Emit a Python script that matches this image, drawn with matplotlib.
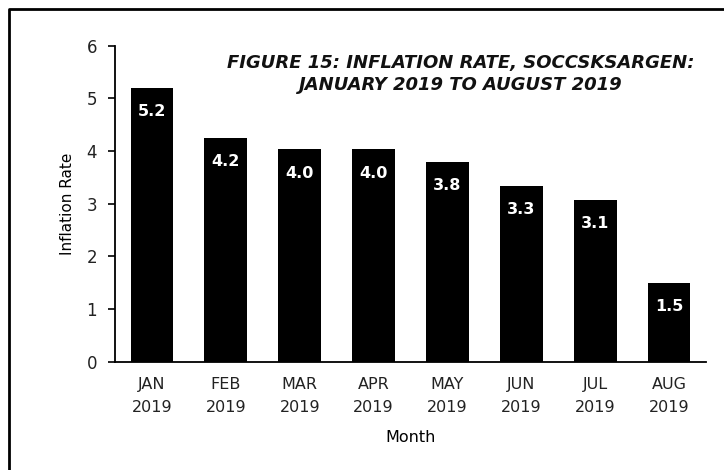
import matplotlib.pyplot as plt
from matplotlib.lines import Line2D

months = ['JAN\n2019', 'FEB\n2019', 'MAR\n2019', 'APR\n2019',
          'MAY\n2019', 'JUN\n2019', 'JUL\n2019', 'AUG\n2019']
rates = [5.2, 4.24, 4.03, 4.03, 3.8, 3.34, 3.07, 1.5]
title = "FIGURE 15: INFLATION RATE, SOCCSKSARGEN:\nJANUARY 2019 TO AUGUST 2019"

plt.rcParams['font.family'] = ['DejaVu Sans']

fig = plt.figure(figsize=(7.24, 4.70), dpi=100)
ax = fig.add_axes([0.159, 0.230, 0.816, 0.673])

x = range(len(months))
bars = ax.bar(x, rates, width=0.58, color='black')
for xi, v in zip(x, rates):
    ax.annotate(f"{v:.1f}", (xi, v), xytext=(0, -17), textcoords='offset points',
                ha='center', va='center', color='white', fontsize=11.5, fontweight='bold')

ax.set_xlim(-0.5, 7.5)
ax.set_ylim(0, 6)
ax.set_yticks(range(7))
ax.set_xticks(list(x))
ax.set_xticklabels(months, fontsize=11.5, color='#222222', linespacing=1.65)
ax.tick_params(axis='x', length=0, pad=11)
ax.tick_params(axis='y', length=5, width=1.2, pad=8, labelsize=12,
               colors='black', labelcolor='#222222')
for s in ['top', 'right']:
    ax.spines[s].set_visible(False)
for s in ['left', 'bottom']:
    ax.spines[s].set_linewidth(1.3)

ax.set_ylabel("Inflation Rate", fontsize=11, labelpad=8)
ax.set_xlabel("Month", fontsize=11.5, labelpad=11)

fig.text(0.636, 0.843, title, ha='center', va='center', fontsize=13,
         fontweight='bold', style='italic', linespacing=1.3, color='#111111')

# outer frame (top and left edges only visible)
bx, by = 9 / 724, 1 - 9 / 470
fig.add_artist(Line2D([bx, bx, 1.0], [0.0, by, by], color='black', lw=2,
                      transform=fig.transFigure))

fig.savefig('out.png', dpi=100)
